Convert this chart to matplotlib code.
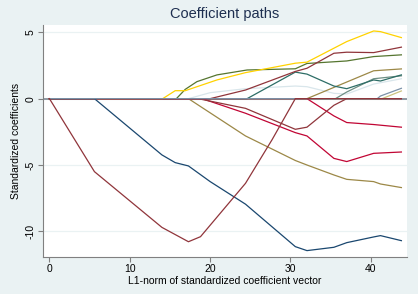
import matplotlib
matplotlib.use("Agg")
import matplotlib.pyplot as plt

plt.rcParams['font.family'] = ['Liberation Sans', 'DejaVu Sans']

# coefficient paths (x = L1 norm, y = coefficient)
navy_x = [0, 5.6, 14.0, 15.65, 17.3, 20.0, 24.4, 30.6, 32.05, 35.4, 37.0, 40.35, 41.2, 43.8]
navy_y = [0, 0, -4.24, -4.82, -5.07, -6.25, -7.95, -11.15, -11.45, -11.2, -10.85, -10.42, -10.32, -10.7]

maroon_v_x = [0, 5.6, 14.0, 17.3, 18.8, 24.4, 27.7, 30.6, 43.8]
maroon_v_y = [0, -5.5, -9.7, -10.78, -10.4, -6.38, -3.1, 0, 0]

gold_x = [0, 14.1, 15.65, 16.9, 20.85, 24.4, 30.6, 32.05, 37.0, 40.35, 41.2, 43.8]
gold_y = [0, 0, 0.6, 0.6, 1.41, 1.96, 2.67, 2.75, 4.3, 5.1, 5.05, 4.6]

green_x = [0, 15.8, 16.9, 18.35, 20.85, 24.6, 30.6, 32.05, 37.0, 40.35, 43.8]
green_y = [0, 0, 0.7, 1.28, 1.79, 2.16, 2.25, 2.65, 2.84, 3.17, 3.3]

maroon_up_x = [0, 20.0, 24.4, 30.6, 32.05, 35.4, 37.0, 40.35, 43.8]
maroon_up_y = [0, 0, 0.65, 2.05, 2.29, 3.42, 3.5, 3.47, 3.88]

bgray_x = [0, 17.3, 20.0, 24.4, 30.6, 32.05, 35.4, 37.0, 40.35, 43.8]
bgray_y = [0, 0, 0.45, 0.75, 0.95, 0.9, 0.4, 0.35, 1.1, 1.5]

emerald_x = [0, 24.6, 30.6, 32.05, 35.4, 37.0, 40.35, 41.2, 43.8]
emerald_y = [0, 0, 2.0, 1.85, 0.95, 0.75, 1.41, 1.33, 1.79]

teal_x = [0, 35.6, 37.0, 40.35, 43.8]
teal_y = [0, 0, 0.5, 1.5, 1.72]

brown_up_x = [0, 32.05, 40.35, 43.8]
brown_up_y = [0, 0, 2.1, 2.24]

emid_x = [0, 40.8, 41.2, 43.8]
emid_y = [0, 0, 0.2, 0.78]

khaki_x = [0, 41.4, 43.8]
khaki_y = [0, 0, 0.58]

brown_dn_x = [0, 17.3, 24.4, 30.6, 32.05, 35.4, 37.0, 40.35, 41.2, 43.8]
brown_dn_y = [0, 0, -2.81, -4.66, -5.0, -5.75, -6.08, -6.25, -6.43, -6.7]

maroon_dn_x = [0, 18.5, 24.4, 30.6, 32.05, 35.4, 37.0, 43.8]
maroon_dn_y = [0, 0, -0.73, -2.31, -2.15, -0.5, 0, 0]

cran_a_x = [0, 19.0, 24.4, 30.6, 32.05, 35.4, 37.0, 40.35, 43.8]
cran_a_y = [0, 0, -1.1, -2.56, -2.81, -4.5, -4.74, -4.12, -4.02]

cran_b_x = [0, 32.05, 35.4, 37.0, 40.35, 43.8]
cran_b_y = [0, 0, -1.3, -1.8, -1.95, -2.15]

yticks = [-10, -5, 0, 5]
xticks = [0, 10, 20, 30, 40]

fig = plt.figure(figsize=(4.18, 2.94), dpi=100, facecolor='#EAF2F3')
ax = fig.add_axes([0.1029, 0.1259, 0.8708, 0.7891])
ax.set_facecolor('white')

for yv in yticks:
    ax.axhline(yv, color='#EAF2F3', lw=0.9, zorder=0)
ax.axhline(0, color='#7F8A96', lw=1.2, zorder=1)

lw = 0.9
ax.plot(bgray_x, bgray_y, color='#D9E6EB', lw=lw, zorder=2)
ax.plot(khaki_x, khaki_y, color='#CAC27E', lw=lw, zorder=2)
ax.plot(brown_up_x, brown_up_y, color='#9C8847', lw=lw, zorder=2)
ax.plot(brown_dn_x, brown_dn_y, color='#9C8847', lw=lw, zorder=2)
ax.plot(teal_x, teal_y, color='#6E8E84', lw=lw, zorder=2)
ax.plot(emerald_x, emerald_y, color='#2D6D66', lw=lw, zorder=2)
ax.plot(green_x, green_y, color='#55752F', lw=lw, zorder=2)
ax.plot(gold_x, gold_y, color='#FFD200', lw=lw, zorder=2)
ax.plot(maroon_up_x, maroon_up_y, color='#90353B', lw=lw, zorder=2)
ax.plot(cran_a_x, cran_a_y, color='#C10534', lw=lw, zorder=2)
ax.plot(cran_b_x, cran_b_y, color='#C10534', lw=lw, zorder=2)
ax.plot(maroon_dn_x, maroon_dn_y, color='#90353B', lw=lw, zorder=2)
ax.plot(navy_x, navy_y, color='#1A476F', lw=lw, zorder=2)
ax.plot(emid_x, emid_y, color='#7B92A8', lw=lw, zorder=3)
ax.plot(maroon_v_x, maroon_v_y, color='#90353B', lw=lw, zorder=4)

ax.set_xlim(-0.8, 44.5)
ax.set_ylim(-11.93, 5.55)
ax.set_xticks(xticks)
ax.set_yticks(yticks)
ax.set_yticklabels([str(v) for v in yticks], rotation=90, va='center')

for s in ['top', 'right']:
    ax.spines[s].set_visible(False)
for s in ['left', 'bottom']:
    ax.spines[s].set_color('#808080')
    ax.spines[s].set_linewidth(0.8)
ax.tick_params(axis='both', length=3.3, width=0.8, color='#808080', labelsize=7.5, pad=2)

ax.set_xlabel('L1-norm of standardized coefficient vector', fontsize=7.5, labelpad=1)
ax.set_ylabel('Standardized coefficients', fontsize=7.5, labelpad=3)
ax.set_title('Coefficient paths', fontsize=10.5, color='#1E2F50', pad=5)

fig.savefig('out.png', dpi=100, facecolor=fig.get_facecolor())
